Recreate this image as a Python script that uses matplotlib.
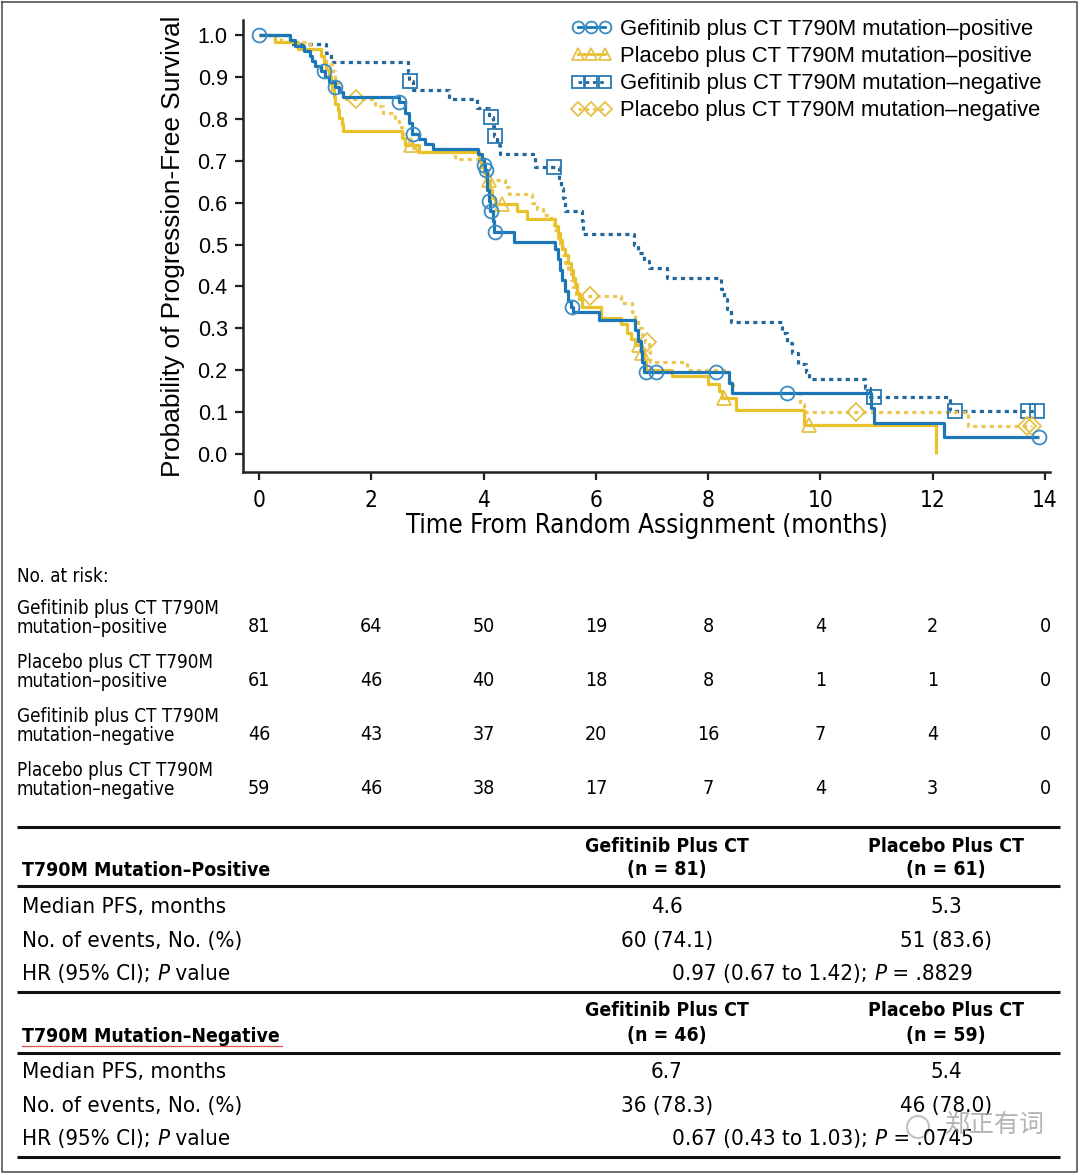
import os
import numpy as np
import matplotlib
matplotlib.use("Agg")
import matplotlib.pyplot as plt
import matplotlib.transforms as mtransforms
from matplotlib import font_manager as fm
from matplotlib.font_manager import FontProperties
from matplotlib.textpath import TextPath
from matplotlib.lines import Line2D

plt.rcParams['font.family'] = ['Liberation Sans', 'DejaVu Sans']

# ---- Kaplan-Meier curves (step times, survival after step) ----
gef_pos_t = [0, 0.55, 0.65, 0.8, 0.9, 0.95, 1.0, 1.1, 1.17, 1.25, 1.35, 1.42, 1.5, 2.5, 2.6, 2.68,
             2.72, 2.85, 2.95, 3.1, 3.9, 3.97, 4.0, 4.03, 4.06, 4.1, 4.12, 4.17, 4.19, 4.54, 5.28,
             5.32, 5.36, 5.4, 5.45, 5.5, 5.55, 5.6, 6.05, 6.7, 6.75, 6.8, 6.83, 6.86, 8.37, 8.42,
             10.9, 10.95, 12.2]
gef_pos_s = [1.0, 0.988, 0.975, 0.963, 0.951, 0.938, 0.926, 0.914, 0.901, 0.889, 0.877, 0.864,
             0.852, 0.84, 0.815, 0.79, 0.765, 0.753, 0.74, 0.728, 0.716, 0.703, 0.69, 0.678, 0.63,
             0.605, 0.58, 0.555, 0.53, 0.505, 0.49, 0.465, 0.44, 0.415, 0.39, 0.365, 0.352, 0.34,
             0.32, 0.296, 0.27, 0.245, 0.22, 0.195, 0.17, 0.145, 0.11, 0.074, 0.041]
gef_pos_end = 13.9
gef_pos_cens = [0, 1.16, 1.36, 2.5, 2.75, 4.0, 4.05, 4.1, 4.14, 4.2, 5.57, 6.9, 7.07, 8.14, 9.41, 13.9]

pbo_pos_t = [0, 0.28, 0.7, 1.1, 1.15, 1.2, 1.25, 1.28, 1.3, 1.33, 1.36, 1.4, 1.43, 1.47, 1.5, 2.54,
             2.6, 2.85, 3.91, 3.95, 4.0, 4.05, 4.12, 4.15, 4.2, 4.6, 4.77, 5.28, 5.33, 5.37, 5.4,
             5.45, 5.5, 5.55, 5.6, 5.63, 5.66, 5.7, 5.75, 6.1, 6.45, 6.55, 6.62, 6.7, 6.8, 6.85,
             6.9, 7.35, 8.0, 8.2, 8.25, 8.5, 9.7, 12.06]
pbo_pos_s = [1.0, 0.984, 0.967, 0.951, 0.934, 0.918, 0.902, 0.885, 0.869, 0.852, 0.836, 0.82,
             0.803, 0.787, 0.77, 0.754, 0.738, 0.72, 0.70, 0.685, 0.67, 0.655, 0.63, 0.61, 0.597,
             0.58, 0.562, 0.545, 0.527, 0.51, 0.49, 0.475, 0.455, 0.44, 0.42, 0.405, 0.385, 0.37,
             0.352, 0.325, 0.31, 0.29, 0.275, 0.26, 0.24, 0.22, 0.20, 0.185, 0.168, 0.15, 0.134,
             0.105, 0.07, 0.0]
pbo_pos_end = 12.06
pbo_pos_cens = [2.71, 4.09, 4.32, 6.77, 6.82, 8.29, 9.8]

gef_neg_t = [0, 0.55, 1.2, 1.28, 2.65, 2.68, 2.75, 3.38, 3.88, 4.1, 4.17, 4.19, 4.24, 4.3, 4.92,
             5.34, 5.38, 5.42, 5.45, 5.75, 5.78, 6.68, 6.75, 6.85, 6.95, 7.26, 8.23, 8.28, 8.33,
             8.4, 9.32, 9.4, 9.5, 9.6, 9.75, 9.8, 10.8, 10.88, 12.3]
gef_neg_s = [1.0, 0.978, 0.957, 0.935, 0.913, 0.891, 0.869, 0.847, 0.826, 0.804, 0.782, 0.76,
             0.738, 0.716, 0.684, 0.66, 0.635, 0.61, 0.58, 0.555, 0.525, 0.50, 0.48, 0.46, 0.444,
             0.42, 0.395, 0.37, 0.345, 0.315, 0.29, 0.265, 0.24, 0.215, 0.195, 0.178, 0.158,
             0.136, 0.103]
gef_neg_end = 13.86
gef_neg_cens = [2.69, 4.14, 4.2, 5.25, 10.96, 12.39, 13.7, 13.86]

pbo_neg_t = [0, 0.4, 0.9, 1.1, 1.2, 1.3, 1.35, 1.4, 1.45, 1.5, 2.07, 2.2, 2.43, 2.5, 2.55, 2.6,
             2.7, 2.84, 3.5, 3.95, 4.0, 4.05, 4.39, 4.45, 4.86, 4.95, 5.05, 5.2, 5.25, 5.33, 5.37,
             5.41, 5.45, 5.5, 5.55, 5.6, 5.65, 6.45, 6.65, 6.7, 6.75, 6.82, 6.88, 6.95, 6.97,
             7.63, 8.38, 8.45, 9.63, 9.7, 12.63]
pbo_neg_s = [1.0, 0.983, 0.966, 0.949, 0.932, 0.915, 0.898, 0.881, 0.864, 0.847, 0.83, 0.813,
             0.796, 0.78, 0.763, 0.746, 0.73, 0.72, 0.703, 0.686, 0.67, 0.654, 0.637, 0.62, 0.60,
             0.585, 0.57, 0.553, 0.535, 0.515, 0.495, 0.475, 0.455, 0.435, 0.415, 0.398, 0.378,
             0.36, 0.34, 0.32, 0.30, 0.285, 0.268, 0.245, 0.22, 0.20, 0.175, 0.145, 0.12, 0.10,
             0.067]
pbo_neg_end = 13.77
pbo_neg_cens = [1.73, 5.9, 6.91, 10.64, 13.68, 13.77]

labels = ['Gefitinib plus CT T790M mutation\u2013positive',
          'Placebo plus CT T790M mutation\u2013positive',
          'Gefitinib plus CT T790M mutation\u2013negative',
          'Placebo plus CT T790M mutation\u2013negative']

# ---- number at risk ----
risk_times = [0, 2, 4, 6, 8, 10, 12, 14]
risk_labels = ['Gefitinib plus CT T790M\nmutation\u2013positive',
               'Placebo plus CT T790M\nmutation\u2013positive',
               'Gefitinib plus CT T790M\nmutation\u2013negative',
               'Placebo plus CT T790M\nmutation\u2013negative']
risk_gef_pos = [81, 64, 50, 19, 8, 4, 2, 0]
risk_pbo_pos = [61, 46, 40, 18, 8, 1, 1, 0]
risk_gef_neg = [46, 43, 37, 20, 16, 7, 4, 0]
risk_pbo_neg = [59, 46, 38, 17, 7, 4, 3, 0]

# ---- summary table ----
tbl_headers = ['Gefitinib Plus CT', 'Placebo Plus CT']
pos_n = ['(n = 81)', '(n = 61)']
neg_n = ['(n = 46)', '(n = 59)']
pos_median = ['4.6', '5.3']
neg_median = ['6.7', '5.4']
pos_events = ['60 (74.1)', '51 (83.6)']
neg_events = ['36 (78.3)', '46 (78.0)']
pos_hr = ['0.97 (0.67 to 1.42); ', 'P', ' = .8829']
neg_hr = ['0.67 (0.43 to 1.03); ', 'P', ' = .0745']

BLUE = '#1b77b5'
BLUE_DOT = '#22689d'
BLUE_MK = '#3b8cc3'
YEL = '#e8c12b'
YEL_DOT = '#ebc652'
YEL_MK = '#e6c24a'


# ---- condensed font lookup (falls back to Liberation Sans) ----
def find_font(*names):
    paths = [f.fname for f in fm.fontManager.ttflist] + fm.findSystemFonts()
    for n in names:
        for p in paths:
            if os.path.basename(p).lower() == n.lower():
                return p
    return None


narrow_files = {
    'regular': find_font('LiberationSansNarrow-Regular.ttf', 'DejaVuSansCondensed.ttf',
                         'RobotoCondensed-Regular.ttf'),
    'bold': find_font('LiberationSansNarrow-Bold.ttf', 'DejaVuSansCondensed-Bold.ttf',
                      'RobotoCondensed-Bold.ttf'),
    'italic': find_font('LiberationSansNarrow-Italic.ttf', 'DejaVuSansCondensed-Oblique.ttf',
                        'RobotoCondensed-Italic.ttf'),
}


def nfp(size, kind='regular'):
    path = narrow_files[kind]
    if path:
        return FontProperties(fname=path, size=size)
    return FontProperties(family='Liberation Sans', size=size,
                          weight='bold' if kind == 'bold' else 'normal',
                          style='italic' if kind == 'italic' else 'normal')


def px_width(s, fp):
    return TextPath((0, 0), s, prop=fp).get_extents().width / 0.72


def fit_size(s, px, kind='regular'):
    # font size (pt) that makes string s about px pixels wide at dpi 100
    return 10 * px / px_width(s, nfp(10, kind))


fs_risk = fit_size('Gefitinib plus CT T790M', 199)
fs_tbl = fit_size('Median PFS, months', 200)
fs_head = fit_size('Gefitinib Plus CT', 162, 'bold')
fs_xlab = fit_size('Time From Random Assignment (months)', 478)


def wfit(s, px, family='Liberation Sans'):
    return 10 * px / px_width(s, FontProperties(family=family, size=10))


fs_leg = wfit(labels[2], 420)
fs_ylab = wfit('Probability of Progression-Free Survival', 458)

W, H = 1080, 1175
fig = plt.figure(figsize=(W / 100, H / 100), dpi=100)

bg = fig.add_axes([0, 0, 1, 1])
bg.set_xlim(0, W)
bg.set_ylim(H, 0)
bg.axis('off')

ax = fig.add_axes([243 / W, 1 - 472 / H, (1050 - 243) / W, (472 - 20) / H])


def surv_at(t, s, x):
    idx = np.searchsorted(t, x, side='right') - 1
    return np.asarray(s)[idx]


def km(t, s, end, cens, color, ls, marker, mcolor, ms, z):
    tt = np.append(t, end)
    ss = np.append(s, s[-1])
    ax.step(tt, ss, where='post', color=color, lw=2.3, linestyle=ls, zorder=z,
            solid_capstyle='butt', dash_capstyle='butt')
    ax.plot(cens, surv_at(t, s, cens), linestyle='none', marker=marker, ms=ms,
            mfc='none', mec=mcolor, mew=1.3, zorder=z + 0.5)


dots = (0, (1.3, 1.3))
km(gef_neg_t, gef_neg_s, gef_neg_end, gef_neg_cens, BLUE_DOT, dots, 's', '#2a78b2', 10, 2)
km(pbo_neg_t, pbo_neg_s, pbo_neg_end, pbo_neg_cens, YEL_DOT, dots, 'D', YEL_MK, 9, 2)
km(pbo_pos_t, pbo_pos_s, pbo_pos_end, pbo_pos_cens, YEL, '-', '^', YEL_MK, 10.5, 3)
km(gef_pos_t, gef_pos_s, gef_pos_end, gef_pos_cens, BLUE, '-', 'o', BLUE_MK, 10, 4)

ax.set_xlim(-0.285, 14.09)
ax.set_ylim(-0.043, 1.036)
ax.set_xticks(np.arange(0, 15, 2))
ax.set_yticks(np.arange(0, 1.01, 0.1))
ax.set_yticklabels([f'{v:.1f}' for v in np.arange(0, 1.01, 0.1)])
for side in ['top', 'right']:
    ax.spines[side].set_visible(False)
for side in ['left', 'bottom']:
    ax.spines[side].set_linewidth(1.8)
    ax.spines[side].set_color('#222222')
ax.tick_params(axis='both', direction='out', length=6, width=1.6, color='#222222')
ax.tick_params(axis='y', labelsize=15.5, pad=5)
ax.tick_params(axis='x', pad=6)
for lb in ax.get_xticklabels():
    lb.set_fontproperties(nfp(fs_risk * 1.2))
ax.set_xlabel('Time From Random Assignment (months)', fontproperties=nfp(fs_xlab), labelpad=1)
ax.set_ylabel('Probability of Progression-Free Survival', fontsize=fs_ylab, labelpad=9)

handles = [
    Line2D([], [], color=BLUE, lw=2, marker='o', ms=8.5, mfc='none', mec=BLUE_MK, mew=1.3),
    Line2D([], [], color=YEL, lw=2, marker='^', ms=8.5, mfc='none', mec=YEL_MK, mew=1.3),
    Line2D([], [], color=BLUE_DOT, lw=2, ls=dots, marker='s', ms=8.5, mfc='none', mec='#2a78b2', mew=1.3),
    Line2D([], [], color=YEL_DOT, lw=2, ls=dots, marker='D', ms=7.5, mfc='none', mec=YEL_MK, mew=1.3),
]
fig.legend(handles, labels, loc='upper left', bbox_to_anchor=(571 / W, 1 - 19 / H),
           frameon=False, fontsize=fs_leg, handlelength=1.85, handletextpad=0.4,
           labelspacing=0.28, borderpad=0, borderaxespad=0, numpoints=3)

# ---- number at risk block ----
risk_tr = mtransforms.blended_transform_factory(ax.transData, bg.transData)
bg.text(17, 577, 'No. at risk:', fontproperties=nfp(fs_risk), va='center', ha='left')
risk_rows = [risk_gef_pos, risk_pbo_pos, risk_gef_neg, risk_pbo_neg]
row_y = [627, 681, 735, 789]
for lab, vals, y in zip(risk_labels, risk_rows, row_y):
    bg.text(17, y - 9, lab, fontproperties=nfp(fs_risk), va='center', ha='left', linespacing=1.0)
    for tm, v in zip(risk_times, vals):
        bg.text(tm, y, str(v), transform=risk_tr, fontproperties=nfp(fs_risk * 1.05),
                ha='center', va='center')

# ---- summary table ----
col_x = [667, 946]
for y in [827, 886, 992, 1053, 1157]:
    bg.plot([17, 1060], [y, y], color='#111111', lw=2.2, solid_capstyle='butt')


def mixed(x, y, parts, center=False):
    # plain / italic / plain text pieces chained left to right
    kinds = ['regular', 'italic', 'regular']
    if center:
        total = sum(px_width(p.replace(' ', '\u00a0'), nfp(fs_tbl, k)) for p, k in zip(parts, kinds))
        x = x - total / 2
    t = bg.text(x, y, parts[0], fontproperties=nfp(fs_tbl, kinds[0]), ha='left', va='center')
    for p, k in zip(parts[1:], kinds[1:]):
        t = bg.annotate(p, xy=(1, 0), xycoords=t, va='bottom', ha='left',
                        fontproperties=nfp(fs_tbl, k))


def section(y0, title, ns, med, ev, hr):
    for cx, head, n in zip(col_x, tbl_headers, ns):
        bg.text(cx, y0 + 19, head, fontproperties=nfp(fs_head, 'bold'), ha='center', va='center')
        bg.text(cx, y0 + 43, n, fontproperties=nfp(fs_head, 'bold'), ha='center', va='center')
    bg.text(22, y0 + 44, title, fontproperties=nfp(fs_head, 'bold'), ha='left', va='center')
    bg.text(22, y0 + 80, 'Median PFS, months', fontproperties=nfp(fs_tbl), ha='left', va='center')
    bg.text(22, y0 + 114, 'No. of events, No. (%)', fontproperties=nfp(fs_tbl), ha='left', va='center')
    mixed(22, y0 + 147, ['HR (95% CI); ', 'P', ' value'])
    for cx, m, e in zip(col_x, med, ev):
        bg.text(cx, y0 + 80, m, fontproperties=nfp(fs_tbl), ha='center', va='center')
        bg.text(cx, y0 + 114, e, fontproperties=nfp(fs_tbl), ha='center', va='center')
    mixed(812, y0 + 147, hr, center=True)


section(827, 'T790M Mutation\u2013Positive', pos_n, pos_median, pos_events, pos_hr)
section(992, 'T790M Mutation\u2013Negative', neg_n, neg_median, neg_events, neg_hr)
# spell-check squiggle under the second section title in the screenshot
bg.plot([22, 282], [1046, 1046], color='#d9534f', lw=0.9)

# watermark
bg.text(1045, 1125, '\u90d1\u6b63\u6709\u8bcd', fontsize=18, color='#9a9a9a', alpha=0.75,
        ha='right', va='center', family=['Noto Sans CJK SC', 'DejaVu Sans'], zorder=5)
bg.add_patch(plt.Circle((918, 1127), 11, fill=False, ec='#a8a8a8', lw=1.5, alpha=0.7))

# outer frame
bg.plot([2, W - 3, W - 3, 2, 2], [2, 2, H - 3, H - 3, 2], color='#555555', lw=1.2)

fig.savefig('out.png', dpi=100)
